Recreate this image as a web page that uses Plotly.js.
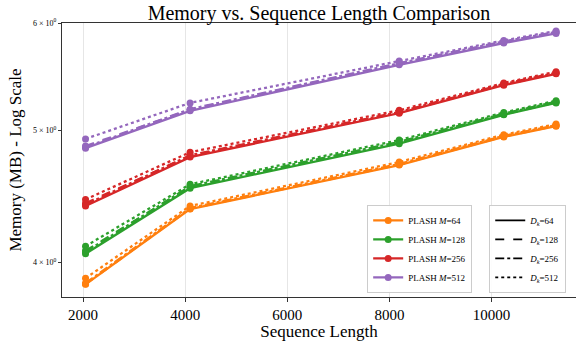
<!DOCTYPE html>
<html>
<head>
<meta charset="utf-8">
<script src="https://cdn.plot.ly/plotly-3.0.1.min.js"></script>
<style>html,body{margin:0;padding:0;background:#fff;overflow:hidden}</style>
</head>
<body>
<div id="chart" style="width:576px;height:341px"></div>
<script>
const seqLen = [2048, 4096, 8192, 10240, 11264];
const mLabels = ['64', '128', '256', '512'];
const dkLabels = ['64', '128', '256', '512'];
const mColors = ['#ff7f0e', '#2ca02c', '#d62728', '#9467bd'];
const dkDash = ['solid', 'dash', 'dashdot', 'dot'];

// memory values [M][Dk]
const mem_M64 = [
  [3.853, 4.377, 4.716, 4.946, 5.037],
  [3.855, 4.380, 4.720, 4.950, 5.040],
  [3.860, 4.385, 4.725, 4.955, 5.045],
  [3.893, 4.400, 4.740, 4.965, 5.055]
];
const mem_M128 = [
  [4.058, 4.535, 4.890, 5.135, 5.240],
  [4.078, 4.545, 4.900, 5.140, 5.245],
  [4.070, 4.550, 4.905, 5.145, 5.250],
  [4.110, 4.565, 4.920, 5.155, 5.260]
];
const mem_M256 = [
  [4.400, 4.780, 5.150, 5.400, 5.505],
  [4.420, 4.790, 5.155, 5.405, 5.510],
  [4.410, 4.795, 5.160, 5.410, 5.515],
  [4.449, 4.820, 5.175, 5.420, 5.525]
];
const mem_M512 = [
  [4.853, 5.170, 5.590, 5.800, 5.895],
  [4.870, 5.180, 5.600, 5.810, 5.905],
  [4.860, 5.185, 5.605, 5.815, 5.910],
  [4.930, 5.240, 5.625, 5.825, 5.920]
];
const yTickVals = [4, 5, 6];
const yTickText = ['4 × 10<sup>0</sup>', '5 × 10<sup>0</sup>', '6 × 10<sup>0</sup>'];
const xTickVals = [2000, 4000, 6000, 8000, 10000];
const xTickText = ['2000', '4000', '6000', '8000', '10000'];

const allMem = [mem_M64, mem_M128, mem_M256, mem_M512];
const traces = [];
allMem.forEach((series, mi) => {
  series.forEach((vals, di) => {
    traces.push({
      type: 'scatter', mode: 'lines+markers',
      x: seqLen, y: vals,
      line: {color: mColors[mi], width: 2.3, dash: dkDash[di]},
      marker: {color: mColors[mi], size: 7},
      name: 'PLASH <i>M</i>=' + mLabels[mi],
      legend: 'legend',
      showlegend: di === 0
    });
  });
});
dkLabels.forEach((d, di) => {
  traces.push({
    type: 'scatter', mode: 'lines',
    x: [null], y: [null],
    line: {color: '#000', width: 1.6, dash: dkDash[di]},
    name: '<i>D<sub>k</sub></i>=' + d,
    legend: 'legend2',
    showlegend: true
  });
});

const serif = 'Liberation Serif, Times New Roman, serif';
const layout = {
  width: 576, height: 341,
  margin: {l: 62, r: 0, t: 23, b: 44},
  paper_bgcolor: '#fff', plot_bgcolor: '#fff',
  font: {family: serif, color: '#000'},
  title: {text: 'Memory vs. Sequence Length Comparison', font: {family: serif, size: 20, color: '#000'},
          xref: 'paper', x: 0.5, xanchor: 'center', y: 0.963, yanchor: 'middle'},
  xaxis: {
    range: [1587, 11655],
    tickvals: xTickVals, ticktext: xTickText,
    ticks: 'outside', ticklen: 4, tickcolor: '#333',
    showgrid: true, gridcolor: '#e6e6e6', gridwidth: 1,
    showline: true, linecolor: '#333', linewidth: 1.2, mirror: true,
    zeroline: false,
    tickfont: {family: serif, size: 15, color: '#000'},
    title: {text: 'Sequence Length', font: {family: serif, size: 17, color: '#000'}, standoff: 1}
  },
  yaxis: {
    type: 'log',
    range: [Math.log10(3.771), Math.log10(6.0)],
    tickvals: yTickVals, ticktext: yTickText,
    ticks: 'outside', ticklen: 3, tickcolor: '#333',
    showgrid: false,
    showline: true, linecolor: '#333', linewidth: 1.2, mirror: true,
    zeroline: false,
    tickfont: {family: serif, size: 8, color: '#000'},
    title: {text: 'Memory (MB) - Log Scale', font: {family: serif, size: 17, color: '#000'}, standoff: 7}
  },
  legend: {
    x: 0.798, xanchor: 'right', y: 0.015, yanchor: 'bottom',
    bgcolor: 'rgba(255,255,255,0.9)', bordercolor: '#cccccc', borderwidth: 1,
    font: {family: serif, size: 9, color: '#000'},
    itemwidth: 30, tracegroupgap: 0
  },
  legend2: {
    x: 0.981, xanchor: 'right', y: 0.015, yanchor: 'bottom',
    bgcolor: 'rgba(255,255,255,0.9)', bordercolor: '#cccccc', borderwidth: 1,
    font: {family: serif, size: 9, color: '#000'},
    itemwidth: 30, tracegroupgap: 0
  },
  hovermode: false,
  showlegend: true
};
Plotly.newPlot('chart', traces, layout, {staticPlot: true, displayModeBar: false});
</script>
</body>
</html>
